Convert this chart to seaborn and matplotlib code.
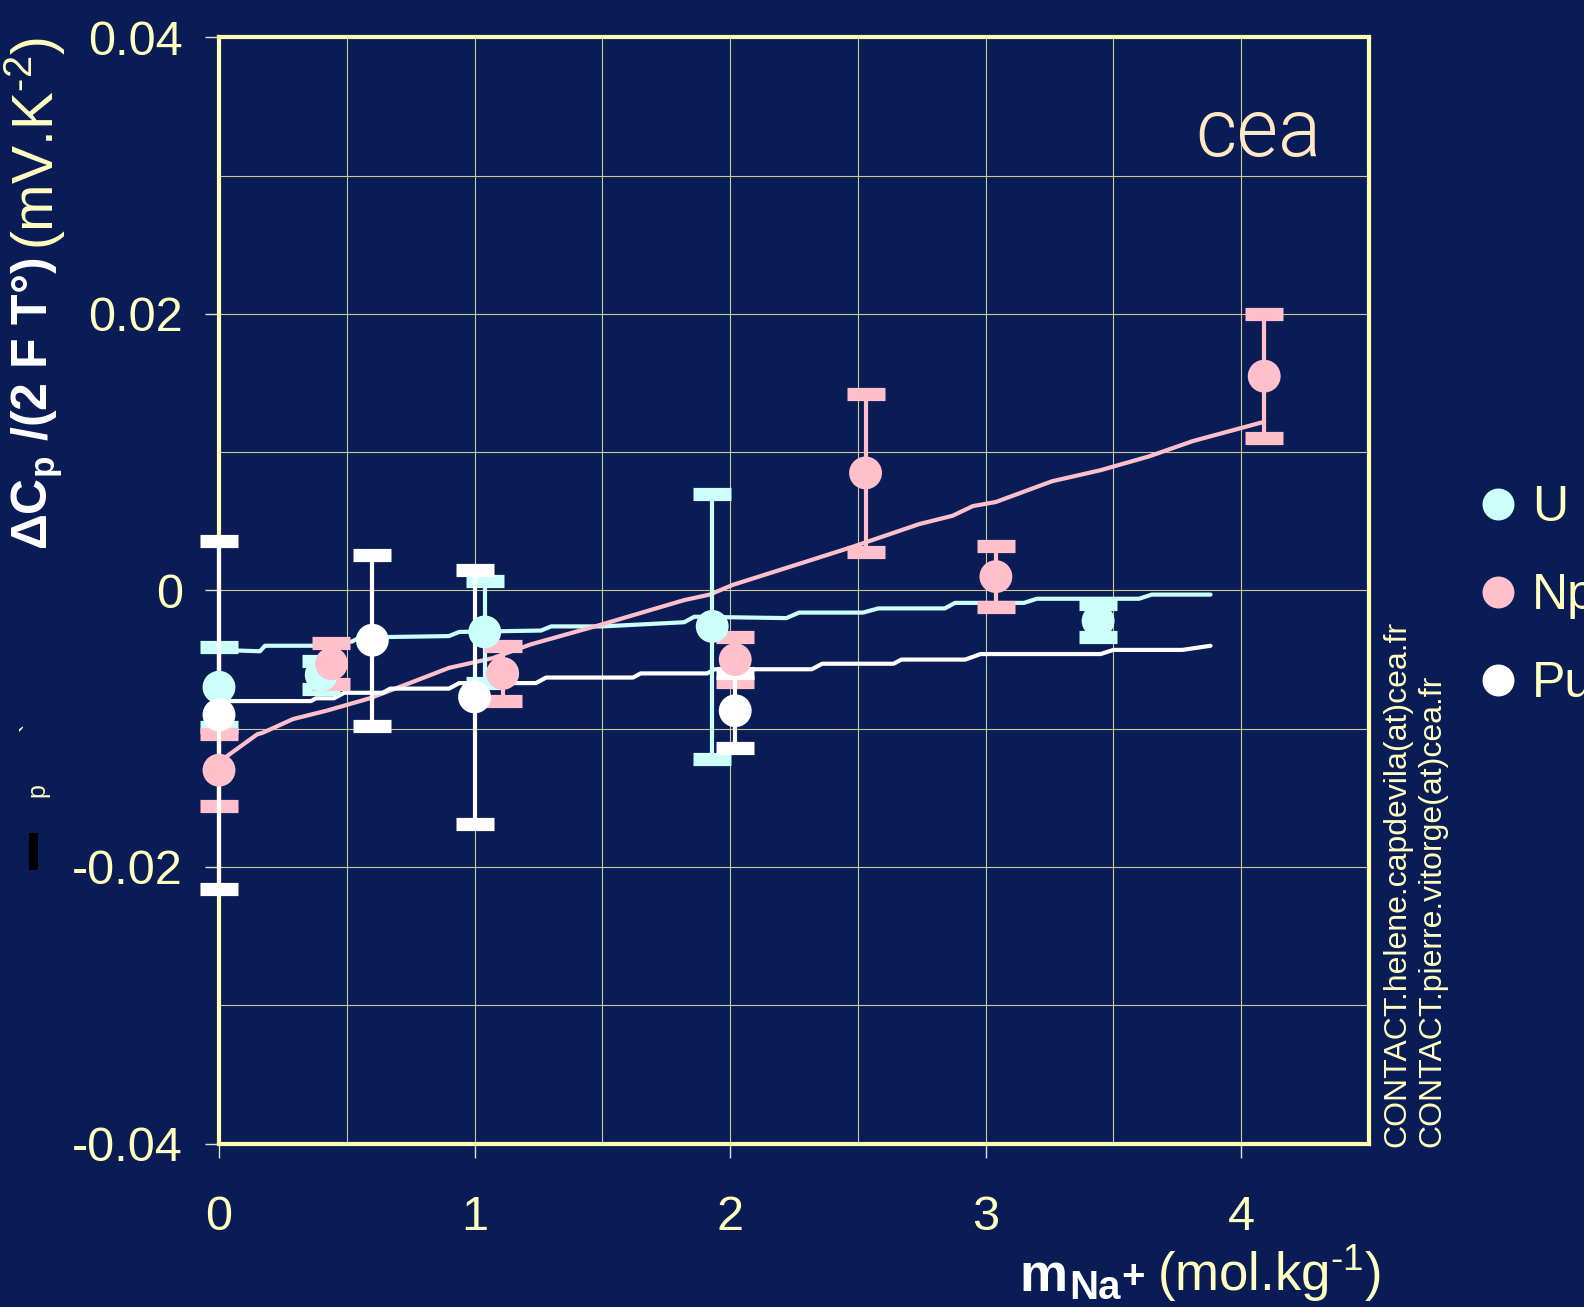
"""
Delta Cp / (2 F T°) vs. molalidad de Na+ para U, Np y Pu (puntos con barras de
error) y las curvas ajustadas por especie.
"""

import matplotlib

matplotlib.use("Agg")
import matplotlib.pyplot as plt
import numpy as np
import pandas as pd
import seaborn as sns
from matplotlib.lines import Line2D
from matplotlib.patches import Rectangle

# --- datos -----------------------------------------------------------------
especies = ["U", "Np", "Pu"]

u_m = [0.0, 0.40, 1.04, 1.93, 3.44]
u_dcp = [-0.0070, -0.0061, -0.0030, -0.0026, -0.0022]
u_err = [0.0029, 0.0010, 0.0037, 0.0096, 0.0012]

np_m = [0.0, 0.44, 1.11, 2.02, 2.53, 3.04, 4.09]
np_dcp = [-0.0130, -0.0053, -0.0060, -0.0050, 0.0085, 0.0010, 0.0155]
np_err = [0.0026, 0.0015, 0.0020, 0.0016, 0.0057, 0.0022, 0.0045]

pu_m = [0.0, 0.60, 1.00, 2.02]
pu_dcp = [-0.0090, -0.0036, -0.0077, -0.0087]
pu_err = [0.0126, 0.0062, 0.0092, 0.0027]

# curvas ajustadas
u_fit_m = [0.0, 0.16, 0.18, 0.37, 0.40, 0.52, 0.55, 0.90, 0.94, 1.26, 1.30,
           1.50, 1.82, 1.86, 2.22, 2.27, 2.52, 2.58, 2.84, 2.88, 3.15, 3.20,
           3.60, 3.65, 3.88]
u_fit = [-0.0043, -0.0044, -0.0040, -0.0040, -0.0037, -0.0037, -0.0034,
         -0.0033, -0.0030, -0.0029, -0.0026, -0.0026, -0.0023, -0.0019,
         -0.0020, -0.0016, -0.0016, -0.0013, -0.0013, -0.0009, -0.0009,
         -0.0006, -0.0006, -0.0003, -0.0003]

np_fit_m = [0.0, 0.15, 0.17, 0.29, 0.42, 0.59, 0.76, 0.90, 1.07, 1.22, 1.49,
            1.82, 1.92, 2.01, 2.30, 2.47, 2.74, 2.87, 2.95, 3.04, 3.26, 3.45,
            3.64, 3.81, 4.09]
np_fit = [-0.0124, -0.0104, -0.0103, -0.0093, -0.0087, -0.0078, -0.0066,
          -0.0056, -0.0049, -0.0039, -0.0025, -0.0007, -0.0003, 0.0004,
          0.0021, 0.0031, 0.0048, 0.0054, 0.0061, 0.0064, 0.0079, 0.0087,
          0.0097, 0.0108, 0.0122]

pu_fit_m = [0.0, 0.36, 0.38, 0.45, 0.49, 0.64, 0.67, 0.90, 0.94, 1.24, 1.28,
            1.62, 1.65, 1.91, 1.94, 2.32, 2.36, 2.64, 2.67, 2.92, 2.98, 3.45,
            3.50, 3.77, 3.88]
pu_fit = [-0.0080, -0.0080, -0.0078, -0.0078, -0.0074, -0.0074, -0.0071,
          -0.0071, -0.0067, -0.0067, -0.0063, -0.0063, -0.0060, -0.0060,
          -0.0057, -0.0057, -0.0053, -0.0053, -0.0050, -0.0050, -0.0046,
          -0.0046, -0.0043, -0.0043, -0.0040]

x_ticks = [0, 1, 2, 3, 4]
y_ticks = [-0.04, -0.02, 0.0, 0.02, 0.04]
y_tick_labels = ["-0.04", "-0.02", "0", "0.02", "0.04"]

# --- estilo -----------------------------------------------------------------
FONDO = "#0A1C55"
AMARILLO = "#FFFFC0"
MARCO = "#FFFFB4"
REJILLA = "#C8C89A"
colores = {"U": "#CCFFFA", "Np": "#FFC0CB", "Pu": "#FFFFFF"}

sns.set_style("dark", rc={"axes.facecolor": FONDO, "figure.facecolor": FONDO})
plt.rcParams["font.family"] = ["Liberation Sans", "DejaVu Sans"]
plt.rcParams["mathtext.fontset"] = "custom"
plt.rcParams["mathtext.rm"] = "Liberation Sans"
plt.rcParams["mathtext.bf"] = "Liberation Sans:bold"
plt.rcParams["mathtext.it"] = "Liberation Sans:italic"

puntos = pd.concat([
    pd.DataFrame({"m": u_m, "dcp": u_dcp, "err": u_err, "ion": "U"}),
    pd.DataFrame({"m": np_m, "dcp": np_dcp, "err": np_err, "ion": "Np"}),
    pd.DataFrame({"m": pu_m, "dcp": pu_dcp, "err": pu_err, "ion": "Pu"}),
], ignore_index=True)
ajustes = pd.concat([
    pd.DataFrame({"m": u_fit_m, "dcp": u_fit, "ion": "U"}),
    pd.DataFrame({"m": np_fit_m, "dcp": np_fit, "ion": "Np"}),
    pd.DataFrame({"m": pu_fit_m, "dcp": pu_fit, "ion": "Pu"}),
], ignore_index=True)

W, H = 1584, 1307
fig = plt.figure(figsize=(W / 100, H / 100), dpi=100)
ax = fig.add_axes([219 / W, 1 - 1143.5 / H, (1369 - 219) / W, (1143.5 - 37.4) / H])

sns.lineplot(data=ajustes, x="m", y="dcp", hue="ion", palette=colores,
             estimator=None, sort=False, lw=3, legend=False, ax=ax, zorder=3,
             clip_on=False)
for ion in especies:
    sub = puntos[puntos["ion"] == ion]
    barras = ax.errorbar(sub["m"], sub["dcp"], yerr=sub["err"], fmt="none",
                         ecolor=colores[ion], elinewidth=3, capsize=13.5,
                         capthick=9.5, zorder=4)
    for art in list(barras.lines[1]) + list(barras.lines[2]):
        art.set_clip_on(False)
sns.scatterplot(data=puntos, x="m", y="dcp", hue="ion", palette=colores,
                s=560, edgecolor="none", linewidth=0, legend=False, ax=ax,
                zorder=5, clip_on=False)

ax.set_xlim(0, 4.5)
ax.set_ylim(-0.04, 0.04)
ax.set_xticks(x_ticks)
ax.set_xticks(np.arange(0, 4.51, 0.5), minor=True)
ax.set_yticks(y_ticks)
ax.set_yticklabels(y_tick_labels)
ax.set_yticks(np.arange(-0.04, 0.0401, 0.01), minor=True)
ax.set_xlabel("")
ax.set_ylabel("")
ax.grid(True, which="both", color=REJILLA, lw=0.8)
ax.set_axisbelow(True)
for s in ax.spines.values():
    s.set_visible(True)
    s.set_color(MARCO)
    s.set_linewidth(3)
ax.tick_params(which="major", direction="out", length=10, width=1,
               color="#E0E0D0", labelcolor=AMARILLO, labelsize=35,
               bottom=True, left=True)
ax.tick_params(axis="y", which="major", pad=16)
ax.tick_params(axis="x", which="major", pad=27)
ax.tick_params(which="minor", length=0)

# leyenda fuera del eje, recortada por el borde derecho como en el original
handles = [Line2D([], [], ls="", marker="o", ms=23, mfc=colores[i], mec="none")
           for i in especies]
fig.legend(handles, especies, loc="center left",
           bbox_to_anchor=((1498 - 20) / W, 1 - 596 / H), frameon=False,
           fontsize=36, labelcolor=AMARILLO, handlelength=0.8,
           handletextpad=0.28, borderpad=0, borderaxespad=0, labelspacing=0.84)

# etiquetas de ejes en dos colores
fig.canvas.draw()
r = fig.canvas.get_renderer()

yl1 = fig.text(37 / W, 1 - 550 / H, r"$\mathbf{\Delta C_p}$ /(2 F T°)",
               color="white", fontsize=36, fontweight="bold", rotation=90,
               ha="center", va="bottom")
bb = yl1.get_window_extent(r)
fig.text(35 / W, (bb.y1 + 8) / H, r"(mV.K$^{\text{-2}}$)", color=AMARILLO,
         fontsize=41, rotation=90, ha="center", va="bottom")

base_x = 1 - 1291 / H
xl_paren = fig.text(1381 / W, base_x, r"(mol.kg$^{\text{-1}}$)", color=AMARILLO,
                    fontsize=38, ha="right", va="baseline")
bb = xl_paren.get_window_extent(r)
xl_mas = fig.text((bb.x0 - 12) / W, 1 - 1288 / H, "+", color="white",
                  fontsize=29, fontweight="bold", ha="right", va="baseline")
bb = xl_mas.get_window_extent(r)
xl_na = fig.text((bb.x0 - 1) / W, 1 - 1299 / H, "Na", color="white",
                 fontsize=29, fontweight="bold", ha="right", va="baseline")
bb = xl_na.get_window_extent(r)
fig.text((bb.x0 - 2) / W, base_x, "m", color="white", fontsize=39,
         fontweight="bold", ha="right", va="baseline")

# contactos
fig.text(1397 / W, 1 - 1147 / H, "CONTACT.helene.capdevila(at)cea.fr",
         color=AMARILLO, fontsize=23, rotation=90, ha="center", va="bottom")
fig.text(1432 / W, 1 - 1147 / H, "CONTACT.pierre.vitorge(at)cea.fr",
         color=AMARILLO, fontsize=23, rotation=90, ha="center", va="bottom")

# logo
fig.text(1258 / W, 1 - 134 / H, "cea", color="#FFE8C2", fontsize=58,
         family=["Roboto", "DejaVu Sans"], fontweight=300,
         ha="center", va="center")

# restos de la diapositiva original en el margen izquierdo
fig.text(37 / W, 1 - 790 / H, "p", color=AMARILLO, fontsize=18, rotation=90,
         ha="center", va="center")
fig.text(31 / W, 1 - 727 / H, "`", color=AMARILLO, fontsize=18, rotation=90,
         ha="center", va="center")
fig.add_artist(Rectangle((29 / W, 1 - 870 / H), 9 / W, 37 / H,
                         transform=fig.transFigure, color="black", lw=0))

fig.savefig("out.png", dpi=100, facecolor=FONDO)
